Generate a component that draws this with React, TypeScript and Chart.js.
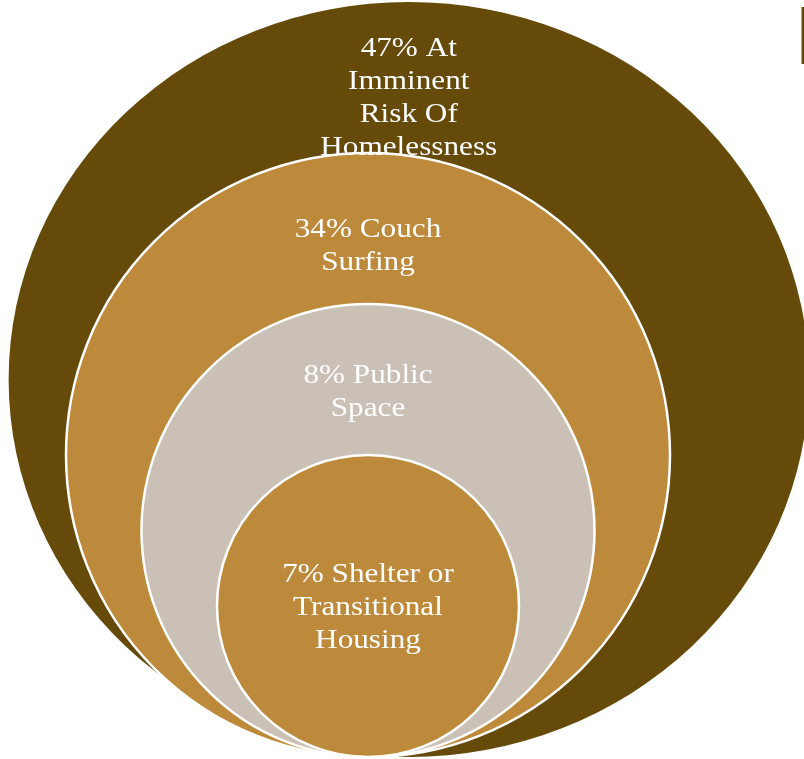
import React, { useEffect, useRef } from "react";
import { Chart, registerables } from "chart.js";

Chart.register(...registerables);

// ---- data ----
const categories = [
  "At Imminent Risk Of Homelessness",
  "Couch Surfing",
  "Public Space",
  "Shelter or Transitional Housing",
];
const shares = [47, 34, 8, 7];
const labelLines = [
  ["47% At", "Imminent", "Risk Of", "Homelessness"],
  ["34% Couch", "Surfing"],
  ["8% Public", "Space"],
  ["7% Shelter or", "Transitional", "Housing"],
];

// ---- layout / style constants ----
const fills = ["#654A0A", "#BD8A3B", "#CBC0B5", "#BD8A3B"];
const UNIT = 75.5; // px per nesting level
const CANVAS_W = 804;
const CANVAS_H = 759;
const BASE_PX = 757; // pixel row where the circles touch
const CENTER_PX = 368; // pixel column of inner circle centres
const outerShiftX = 0.54; // outer shape sits a little to the right
const outerStretchX = 1.06; // and is a little wider than tall
const firstBaselineBelowTop = [0.715, 1.113, 1.046, 1.68];
const LINE_STEP = 33 / UNIT;

const n = shares.length;
const levelRadius = (i: number) => n + 1 - i; // 5,4,3,2

const nestedPlugin = {
  id: "nested",
  beforeDatasetsDraw(chart: any) {
    const { ctx, scales } = chart;
    const xs = scales.x;
    const ys = scales.y;
    chart.data.datasets.forEach((ds: any, i: number) => {
      const pt = chart.getDatasetMeta(i).data[0];
      const r = levelRadius(i);
      const sx = i === 0 ? outerStretchX : 1;
      const cxv = ds.data[0].x;
      const cyv = ds.data[0].y;
      const rx = Math.abs(xs.getPixelForValue(cxv + r * sx) - pt.x);
      const ry = Math.abs(ys.getPixelForValue(cyv + r) - pt.y);
      ctx.save();
      ctx.beginPath();
      ctx.ellipse(pt.x, pt.y, rx, ry, 0, 0, Math.PI * 2);
      ctx.fillStyle = fills[i];
      ctx.fill();
      if (i > 0) {
        ctx.lineWidth = 2.5;
        ctx.strokeStyle = "#FFFFFF";
        ctx.stroke();
      }
      ctx.restore();
    });
    // small edge fragment at top right
    const area = chart.chartArea;
    ctx.save();
    ctx.fillStyle = fills[0];
    ctx.fillRect(area.right - 2.5, area.top + 7, 2.5, 57);
    ctx.restore();
  },
  afterDatasetsDraw(chart: any) {
    const { ctx, scales } = chart;
    const ys = scales.y;
    chart.data.datasets.forEach((ds: any, i: number) => {
      const pt = chart.getDatasetMeta(i).data[0];
      const topV = ds.data[0].y + levelRadius(i);
      ctx.save();
      ctx.fillStyle = "#FFFFFF";
      ctx.font = '28px "Liberation Serif", "Times New Roman", serif';
      ctx.textAlign = "center";
      ctx.textBaseline = "alphabetic";
      labelLines[i].forEach((line, j) => {
        const yv = topV - firstBaselineBelowTop[i] - j * LINE_STEP;
        const py = ys.getPixelForValue(yv);
        ctx.save();
        ctx.translate(pt.x, py);
        ctx.scale(1.115, 1);
        ctx.fillText(line, 0, 0);
        ctx.restore();
      });
      ctx.restore();
    });
  },
};

export default function App() {
  const ref = useRef<HTMLCanvasElement | null>(null);
  useEffect(() => {
    if (!ref.current) return;
    const datasets = categories.map((c, i) => ({
      label: `${shares[i]}% ${c}`,
      data: [{ x: i === 0 ? outerShiftX : 0, y: levelRadius(i) }],
      pointRadius: 0,
      pointHoverRadius: 0,
      showLine: false,
    }));
    const chart = new Chart(ref.current, {
      type: "scatter",
      data: { datasets },
      options: {
        animation: false,
        responsive: false,
        devicePixelRatio: 1,
        layout: { padding: 0 },
        events: [],
        plugins: { legend: { display: false }, tooltip: { enabled: false } },
        scales: {
          x: {
            type: "linear",
            display: false,
            min: -CENTER_PX / UNIT,
            max: (CANVAS_W - CENTER_PX) / UNIT,
          },
          y: {
            type: "linear",
            display: false,
            min: -(CANVAS_H - BASE_PX) / UNIT,
            max: BASE_PX / UNIT,
          },
        },
      },
      plugins: [nestedPlugin],
    });
    return () => chart.destroy();
  }, []);
  return (
    <div style={{ position: "absolute", left: 0, top: 0, width: CANVAS_W, height: CANVAS_H, background: "#FFFFFF" }}>
      <canvas ref={ref} width={CANVAS_W} height={CANVAS_H} style={{ display: "block" }} />
    </div>
  );
}
